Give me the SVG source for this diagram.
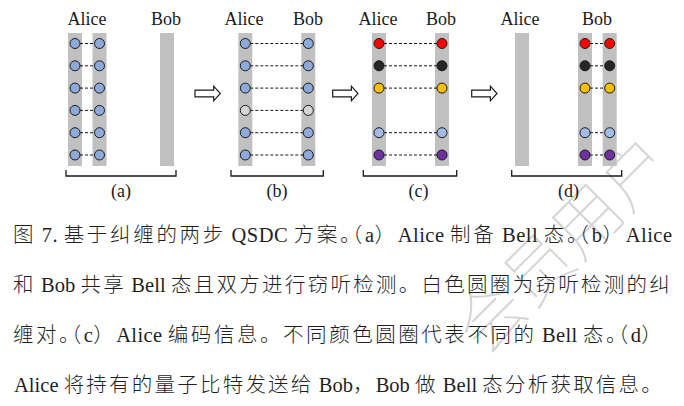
<svg xmlns="http://www.w3.org/2000/svg" width="684" height="406" viewBox="0 0 684 406">
<defs>
<style>
.bar{fill:#c0c0c0}
.q{stroke:#1a1a1a;stroke-width:1}
.blue{fill:#8eaadb}
.lblue{fill:#a3bce6}
.white{fill:#d6d6d6}
.red{fill:#ff0000}
.blk{fill:#262626}
.yel{fill:#ffc000}
.pur{fill:#7030a0}
.dash{stroke:#1a1a1a;stroke-width:1;stroke-dasharray:3 2;fill:none}
.lbl{font-family:"Liberation Serif","Times New Roman",serif;font-size:18px;fill:#1a1a1a;text-anchor:middle}
.brk{fill:none;stroke:#1a1a1a;stroke-width:1.3}
.arr{fill:#fff;stroke:#1a1a1a;stroke-width:1.2}
.cap{font-family:"Liberation Serif","Noto Sans CJK SC",serif;font-size:20.5px;fill:#1f1f1f}
.c{font-family:"Noto Sans CJK SC","Noto Sans CJK JP",sans-serif;font-size:20.5px;font-weight:300;letter-spacing:2.2px}
.h{letter-spacing:-9px}
.wm{font-family:"Noto Sans CJK SC",sans-serif;font-size:68px;font-weight:100;fill:#d4d4d4}
</style>
<path id="arrow" d="M0,-3.3 H18.7 V-7.3 L25.3,0 L18.7,7.3 V3.3 H0 Z"/>
</defs>
<rect width="684" height="406" fill="#fff"/>

<g id="watermark">
<text class="wm" x="0" y="0" transform="translate(484,358) rotate(-45)">会员用户</text>
</g>

<g id="panel-a">
<text class="lbl" x="87" y="25">Alice</text>
<text class="lbl" x="166" y="25">Bob</text>
<rect class="bar" x="68" y="33" width="14" height="133"/>
<rect class="bar" x="92.5" y="33" width="14" height="133"/>
<rect class="bar" x="160" y="33" width="14" height="133"/>
<g class="dash">
<line x1="80" y1="43.5" x2="94.5" y2="43.5"/>
<line x1="80" y1="65.8" x2="94.5" y2="65.8"/>
<line x1="80" y1="88.1" x2="94.5" y2="88.1"/>
<line x1="80" y1="110.4" x2="94.5" y2="110.4"/>
<line x1="80" y1="132.7" x2="94.5" y2="132.7"/>
<line x1="80" y1="155" x2="94.5" y2="155"/>
</g>
<g class="q blue">
<circle cx="75" cy="43.5" r="5"/><circle cx="99.5" cy="43.5" r="5"/>
<circle cx="75" cy="65.8" r="5"/><circle cx="99.5" cy="65.8" r="5"/>
<circle cx="75" cy="88.1" r="5"/><circle cx="99.5" cy="88.1" r="5"/>
<circle cx="75" cy="110.4" r="5"/><circle cx="99.5" cy="110.4" r="5"/>
<circle cx="75" cy="132.7" r="5"/><circle cx="99.5" cy="132.7" r="5"/>
<circle cx="75" cy="155" r="5"/><circle cx="99.5" cy="155" r="5"/>
</g>
<path class="brk" d="M66,170 V176 H176 V170"/>
<text class="lbl" x="121" y="197">(a)</text>
</g>

<g id="panel-b">
<text class="lbl" x="244" y="25">Alice</text>
<text class="lbl" x="308" y="25">Bob</text>
<rect class="bar" x="238.3" y="33" width="14" height="133"/>
<rect class="bar" x="301.3" y="33" width="14" height="133"/>
<g class="dash">
<line x1="250.3" y1="43.5" x2="303.3" y2="43.5"/>
<line x1="250.3" y1="65.8" x2="303.3" y2="65.8"/>
<line x1="250.3" y1="88.1" x2="303.3" y2="88.1"/>
<line x1="250.3" y1="110.4" x2="303.3" y2="110.4"/>
<line x1="250.3" y1="132.7" x2="303.3" y2="132.7"/>
<line x1="250.3" y1="155" x2="303.3" y2="155"/>
</g>
<g class="q blue">
<circle cx="245.3" cy="43.5" r="5"/><circle cx="308.3" cy="43.5" r="5"/>
<circle cx="245.3" cy="65.8" r="5"/><circle cx="308.3" cy="65.8" r="5"/>
<circle cx="245.3" cy="88.1" r="5"/><circle cx="308.3" cy="88.1" r="5"/>
<circle cx="245.3" cy="132.7" r="5"/><circle cx="308.3" cy="132.7" r="5"/>
<circle cx="245.3" cy="155" r="5"/><circle cx="308.3" cy="155" r="5"/>
</g>
<g class="q white">
<circle cx="245.3" cy="110.4" r="5"/><circle cx="308.3" cy="110.4" r="5"/>
</g>
<path class="brk" d="M231,170 V176 H323.3 V170"/>
<text class="lbl" x="277" y="197">(b)</text>
</g>

<g id="panel-c">
<text class="lbl" x="378" y="25">Alice</text>
<text class="lbl" x="441" y="25">Bob</text>
<rect class="bar" x="372" y="33" width="14" height="133"/>
<rect class="bar" x="435" y="33" width="14" height="133"/>
<g class="dash">
<line x1="384" y1="43.5" x2="437" y2="43.5"/>
<line x1="384" y1="65.8" x2="437" y2="65.8"/>
<line x1="384" y1="88.1" x2="437" y2="88.1"/>
<line x1="384" y1="132.7" x2="437" y2="132.7"/>
<line x1="384" y1="155" x2="437" y2="155"/>
</g>
<g class="q">
<circle class="red" cx="379" cy="43.5" r="5"/><circle class="red" cx="442" cy="43.5" r="5"/>
<circle class="blk" cx="379" cy="65.8" r="5"/><circle class="blk" cx="442" cy="65.8" r="5"/>
<circle class="yel" cx="379" cy="88.1" r="5"/><circle class="yel" cx="442" cy="88.1" r="5"/>
<circle class="lblue" cx="379" cy="132.7" r="5"/><circle class="lblue" cx="442" cy="132.7" r="5"/>
<circle class="pur" cx="379" cy="155" r="5"/><circle class="pur" cx="442" cy="155" r="5"/>
</g>
<path class="brk" d="M363.3,170 V176 H456.7 V170"/>
<text class="lbl" x="418.5" y="197">(c)</text>
</g>

<g id="panel-d">
<text class="lbl" x="520" y="25">Alice</text>
<text class="lbl" x="597" y="25">Bob</text>
<rect class="bar" x="515" y="33" width="14" height="133"/>
<rect class="bar" x="578" y="33" width="14" height="133"/>
<rect class="bar" x="602.7" y="33" width="14" height="133"/>
<g class="dash">
<line x1="590" y1="43.5" x2="604.7" y2="43.5"/>
<line x1="590" y1="65.8" x2="604.7" y2="65.8"/>
<line x1="590" y1="88.1" x2="604.7" y2="88.1"/>
<line x1="590" y1="132.7" x2="604.7" y2="132.7"/>
<line x1="590" y1="155" x2="604.7" y2="155"/>
</g>
<g class="q">
<circle class="red" cx="585" cy="43.5" r="5"/><circle class="red" cx="609.7" cy="43.5" r="5"/>
<circle class="blk" cx="585" cy="65.8" r="5"/><circle class="blk" cx="609.7" cy="65.8" r="5"/>
<circle class="yel" cx="585" cy="88.1" r="5"/><circle class="yel" cx="609.7" cy="88.1" r="5"/>
<circle class="lblue" cx="585" cy="132.7" r="5"/><circle class="lblue" cx="609.7" cy="132.7" r="5"/>
<circle class="pur" cx="585" cy="155" r="5"/><circle class="pur" cx="609.7" cy="155" r="5"/>
</g>
<path class="brk" d="M511.7,170 V176 H621.7 V170"/>
<text class="lbl" x="568.5" y="197">(d)</text>
</g>

<g id="connectors">
<use href="#arrow" class="arr" transform="translate(195,93.5)"/>
<use href="#arrow" class="arr" transform="translate(332.7,93.5)"/>
<use href="#arrow" class="arr" transform="translate(471.7,93.5)"/>
</g>

<g id="caption">
<text class="cap" x="13" y="242" textLength="659" lengthAdjust="spacing"><tspan class="c">图</tspan> 7. <tspan class="c">基于纠缠的两步</tspan> QSDC <tspan class="c">方案<tspan class="h">。</tspan>（</tspan>a<tspan class="c">）</tspan>Alice <tspan class="c">制备</tspan> Bell <tspan class="c">态<tspan class="h">。</tspan>（</tspan>b<tspan class="c">）</tspan>Alice</text>
<text class="cap" x="13" y="292" textLength="659" lengthAdjust="spacing"><tspan class="c">和</tspan> Bob <tspan class="c">共享</tspan> Bell <tspan class="c">态且双方进行窃听检测。白色圆圈为窃听检测的纠</tspan></text>
<text class="cap" x="13" y="342" textLength="651" lengthAdjust="spacing"><tspan class="c">缠对<tspan class="h">。</tspan>（</tspan>c<tspan class="c">）</tspan>Alice <tspan class="c">编码信息。不同颜色圆圈代表不同的</tspan> Bell <tspan class="c">态<tspan class="h">。</tspan>（</tspan>d<tspan class="c">）</tspan></text>
<text class="cap" x="14" y="392" textLength="650" lengthAdjust="spacing">Alice <tspan class="c">将持有的量子比特发送给</tspan> Bob<tspan class="c">，</tspan>Bob <tspan class="c">做</tspan> Bell <tspan class="c">态分析获取信息。</tspan></text>
</g>
</svg>
